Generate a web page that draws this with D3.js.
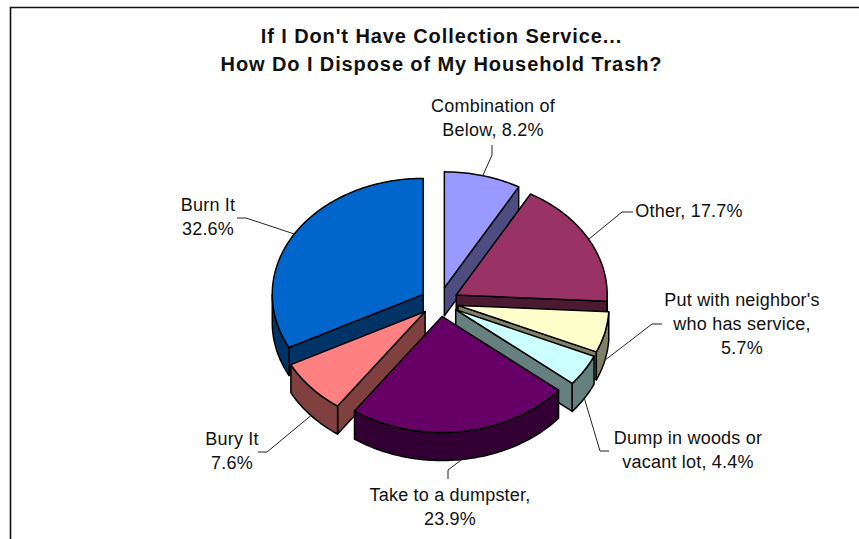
<!DOCTYPE html>
<html>
<head>
<meta charset="utf-8">
<script src="https://cdn.jsdelivr.net/npm/d3@7"></script>
<style>
    body { margin: 0; background: #fff; }
    text { font-family: "Liberation Sans", Arial, sans-serif; fill: #111; }
</style>
</head>
<body>
<svg id="pie_svg" width="859" height="539"></svg>
<script>
// slices run clockwise from 12 o'clock
const categories = ["Combination of Below", "Other", "Put with neighbor's who has service",
    "Dump in woods or vacant lot", "Take to a dumpster", "Bury It", "Burn It"];
const shares = [8.2, 17.7, 5.7, 4.4, 23.9, 7.6, 32.6];
const titleLines = ["If I Don't Have Collection Service...", "How Do I Dispose of My Household Trash?"];
const labelLines = [
    ["Combination of", "Below, 8.2%"],
    ["Other, 17.7%"],
    ["Put with neighbor's", "who has service,", "5.7%"],
    ["Dump in woods or", "vacant lot, 4.4%"],
    ["Take to a dumpster,", "23.9%"],
    ["Bury It", "7.6%"],
    ["Burn It", "32.6%"]
];
const topColors = ["#9999ff", "#993366", "#ffffcc", "#ccffff", "#660066", "#ff8080", "#0066cc"];
const wallColors = ["#4d4d80", "#4d1a33", "#808066", "#668080", "#330033", "#804040", "#003366"];

// layout
const cx = 439.5, cy = 302;
const rx = 151, ry = 116;
const depth = 28;
const explode = 0.126;   // in pie radii
const labelPos = [[493, 112], [689, 217], [742, 306], [688, 444], [450, 501], [232, 445], [208, 211]];
const leaderBend = [
    [[492, 155], [492, 145]],
    [[622, 212], [633, 212]],
    [[652, 324], [662, 324]],
    [[600, 451], [609, 451]],
    [[448, 470], [448, 479]],
    [[267, 452], [258, 452]],
    [[246, 218], [237, 218]]
];
// back to front, so nearer slices cover the walls behind them
const drawOrder = [0, 6, 1, 2, 3, 5, 4];

const svg = d3.select("#pie_svg");

// frame is cut off at the right and the bottom of the picture
svg.append("path")
    .attr("d", "M10.5,539V7.5H859")
    .attr("fill", "none")
    .attr("stroke", "#111")
    .attr("stroke-width", 1.6);

const title = svg.append("text")
    .attr("text-anchor", "middle")
    .style("font-weight", "bold")
    .style("font-size", "20px")
    .style("letter-spacing", "0.9px");
titleLines.forEach(function (line, i) {
    title.append("tspan").attr("x", 441.5).attr("y", 43.3 + i * 27.4).text(line);
});

const slices = d3.pie().sort(null).value(function (d) { return d; })(shares);

// unit circle to screen
const xScale = d3.scaleLinear().domain([-1, 1]).range([-rx, rx]);
const yScale = d3.scaleLinear().domain([-1, 1]).range([-ry, ry]);
const toPath = d3.line();

function rim(a, ox, oy, drop) {
    return [ox + xScale(Math.sin(a)), oy + yScale(-Math.cos(a)) + drop];
}

function arcAngles(a0, a1) {
    let angles = d3.range(a0, a1, 0.02);
    angles.push(a1);
    return angles;
}

const pieGroup = svg.append("g");

drawOrder.forEach(function (i) {
    let d = slices[i];
    let mid = (d.startAngle + d.endAngle) / 2;
    let ox = cx + xScale(explode * Math.sin(mid));
    let oy = cy + yScale(-explode * Math.cos(mid));
    let g = pieGroup.append("g")
        .attr("stroke", "#000")
        .attr("stroke-width", 1.5)
        .attr("stroke-linejoin", "round");

    // straight walls, only the ones facing us
    [d.startAngle, d.endAngle].forEach(function (a, k) {
        let facing = k === 0 ? Math.sin(a) < -0.001 : Math.sin(a) > 0.001;
        if (!facing) return;
        g.append("path")
            .attr("fill", wallColors[i])
            .attr("d", toPath([[ox, oy], rim(a, ox, oy, 0), rim(a, ox, oy, depth), [ox, oy + depth]]) + "Z");
    });

    // curved wall, front half of the ellipse only
    let a0 = Math.max(d.startAngle, Math.PI / 2);
    let a1 = Math.min(d.endAngle, 3 * Math.PI / 2);
    if (a1 > a0) {
        let angles = arcAngles(a0, a1);
        let upper = angles.map(function (a) { return rim(a, ox, oy, 0); });
        let lower = angles.map(function (a) { return rim(a, ox, oy, depth); }).reverse();
        g.append("path")
            .attr("fill", wallColors[i])
            .attr("d", toPath(upper.concat(lower)) + "Z");
    }

    // top face
    let outline = arcAngles(d.startAngle, d.endAngle).map(function (a) { return rim(a, ox, oy, 0); });
    g.append("path")
        .attr("fill", topColors[i])
        .attr("d", toPath([[ox, oy]].concat(outline)) + "Z");
});

// leader lines start on the rim at the middle of each slice
const leaderGroup = svg.append("g");
slices.forEach(function (d, i) {
    let mid = (d.startAngle + d.endAngle) / 2;
    let ox = cx + xScale(explode * Math.sin(mid));
    let oy = cy + yScale(-explode * Math.cos(mid));
    let drop = Math.cos(mid) < 0 ? depth : 0;
    leaderGroup.append("path")
        .attr("class", "leader")
        .attr("fill", "none")
        .attr("stroke", "#222")
        .attr("stroke-width", 1)
        .attr("d", toPath([rim(mid, ox, oy, drop)].concat(leaderBend[i])));
});

const labelGroup = svg.append("g");
labelLines.forEach(function (lines, i) {
    let label = labelGroup.append("text")
        .attr("text-anchor", "middle")
        .style("font-size", "18px")
        .style("letter-spacing", "0.2px");
    lines.forEach(function (line, k) {
        label.append("tspan")
            .attr("x", labelPos[i][0])
            .attr("y", labelPos[i][1] + k * 24)
            .text(line);
    });
});
</script>
</body>
</html>
